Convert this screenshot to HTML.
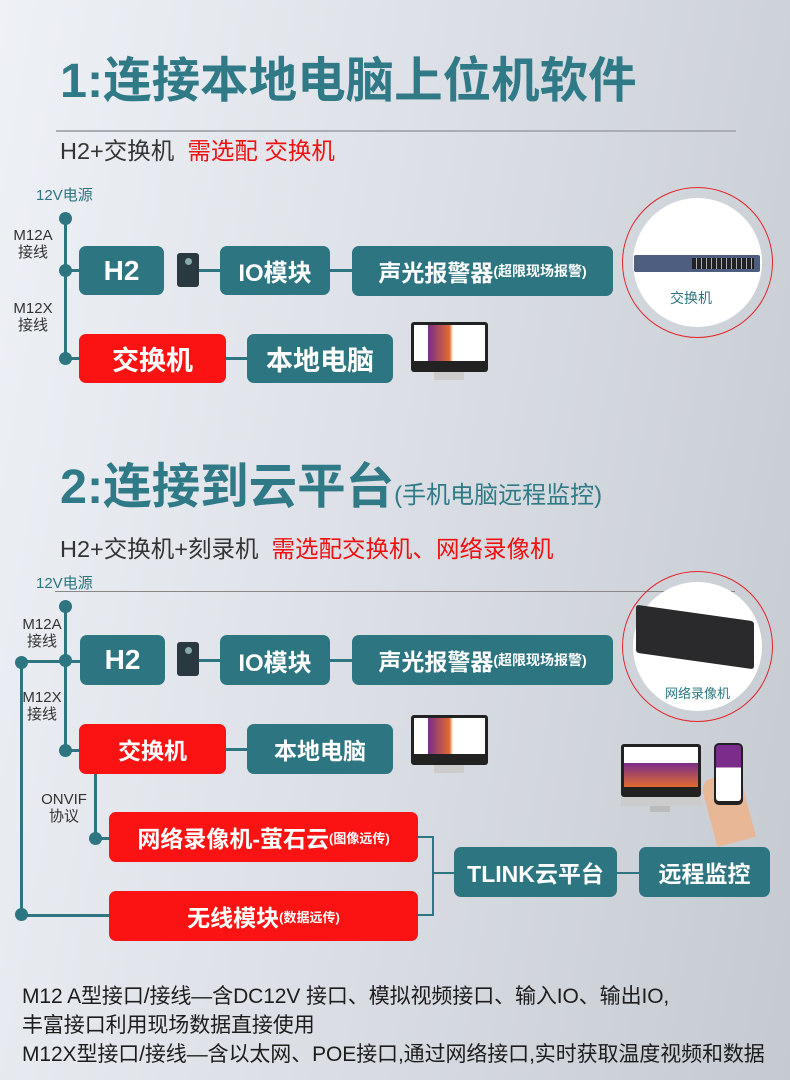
<!DOCTYPE html>
<html><head><meta charset="utf-8">
<style>
*{margin:0;padding:0;box-sizing:border-box}
body{width:790px;height:1080px;position:relative;overflow:hidden;font-family:"Liberation Sans","Noto Sans CJK SC",sans-serif;background:linear-gradient(100deg,#eef1f6 0%,#dde1e7 45%,#c5cad1 100%)}
.a{position:absolute}
.box{position:absolute;border-radius:7px;color:#fff;display:flex;align-items:center;justify-content:center;white-space:nowrap;font-weight:bold}
.t{background:#2d7580}
.r{background:#fb1212}
.ln{position:absolute;background:#2d7580}
.dot{position:absolute;width:13px;height:13px;border-radius:50%;background:#2d7580}
.lbl{position:absolute;font-size:15px;color:#333;line-height:17px;text-align:center}
.title{position:absolute;color:#2f7a86;font-weight:bold;white-space:nowrap}
.sub{position:absolute;font-size:23.5px;color:#333;white-space:nowrap}
.red{color:#f01010}
.circ{position:absolute;border:1.5px solid #e4262a;border-radius:50%}
.inner{position:absolute;background:#fff;border-radius:50%}
.mon{position:absolute}
</style></head><body>

<div class="title" style="left:60px;top:41px;font-size:48.5px;">1:连接本地电脑上位机软件</div>
<div class="a" style="left:56px;top:130px;width:680px;height:2px;background:#a9acb0"></div>
<div class="sub" style="left:60px;top:132px;">H2+交换机 &nbsp;<span class="red">需选配 交换机</span></div>
<div class="a" style="left:36px;top:184px;font-size:15px;color:#2d7580">12V电源</div>

<div class="ln" style="left:64px;top:218px;width:3px;height:141px"></div>
<div class="dot" style="left:59px;top:212px"></div>
<div class="dot" style="left:59px;top:264px"></div>
<div class="dot" style="left:59px;top:352px"></div>
<div class="ln" style="left:65px;top:269px;width:16px;height:3px"></div>
<div class="ln" style="left:65px;top:357px;width:16px;height:3px"></div>
<div class="lbl" style="left:8px;top:227px;width:50px">M12A<br>接线</div>
<div class="lbl" style="left:8px;top:300px;width:50px">M12X<br>接线</div>

<div class="box t" style="left:79px;top:246px;width:85px;height:49px;font-size:28px">H2</div>
<div class="a" style="left:177px;top:253px;width:22px;height:34px;background:#2a3840;border-radius:3px"><div style="margin:5px auto 0;width:7px;height:7px;border-radius:50%;background:#8aa"></div></div>
<div class="ln" style="left:199px;top:269px;width:22px;height:3px"></div>
<div class="box t" style="left:220px;top:246px;width:110px;height:49px;font-size:24px">IO模块</div>
<div class="ln" style="left:330px;top:269px;width:23px;height:3px"></div>
<div class="box t" style="left:352px;top:246px;width:261px;height:50px;font-size:23px">声光报警器<span style="font-size:14px">(超限现场报警)</span></div>
<div class="box r" style="left:79px;top:334px;width:147px;height:49px;font-size:27px">交换机</div>
<div class="ln" style="left:226px;top:357px;width:22px;height:3px"></div>
<div class="box t" style="left:247px;top:334px;width:146px;height:49px;font-size:27px">本地电脑</div>
<div class="mon" style="left:411px;top:322px;width:77px;height:50px;background:#222;border-radius:3px"><div style="margin:3px;height:36px;background:linear-gradient(90deg,#fff 20%,#7a2d8a 20%,#e06b30 50%,#fff 55%)"></div></div>
<div class="a" style="left:434px;top:372px;width:30px;height:8px;background:#ccc"></div>

<div class="circ" style="left:622px;top:187px;width:151px;height:151px"></div>
<div class="inner" style="left:633px;top:198px;width:129px;height:129px"></div>
<div class="a" style="left:634px;top:255px;width:126px;height:17px;background:#4d5e80;border-radius:2px"><div style="position:absolute;left:58px;top:3px;width:62px;height:11px;background:repeating-linear-gradient(90deg,#222 0 4px,#aab 4px 5px)"></div></div>
<div class="a" style="left:670px;top:288px;font-size:14px;color:#2d7580">交换机</div>

<div class="title" style="left:60px;top:447px;font-size:48.5px;">2:连接到云平台<span style="font-size:24px;font-weight:normal">(手机电脑远程监控)</span></div>
<div class="sub" style="left:60px;top:530px;">H2+交换机+刻录机 &nbsp;<span class="red">需选配交换机、网络录像机</span></div>
<div class="a" style="left:36px;top:572px;font-size:15px;color:#2d7580">12V电源</div>
<div class="a" style="left:55px;top:591px;width:680px;height:1px;background:#888"></div>

<div class="ln" style="left:64px;top:606px;width:3px;height:145px"></div>
<div class="dot" style="left:59px;top:600px"></div>
<div class="dot" style="left:59px;top:654px"></div>
<div class="dot" style="left:59px;top:744px"></div>
<div class="ln" style="left:21px;top:660px;width:60px;height:3px"></div>
<div class="ln" style="left:65px;top:749px;width:16px;height:3px"></div>
<div class="ln" style="left:20px;top:662px;width:3px;height:253px"></div>
<div class="dot" style="left:15px;top:656px"></div>
<div class="dot" style="left:15px;top:908px"></div>
<div class="ln" style="left:21px;top:914px;width:90px;height:3px"></div>
<div class="lbl" style="left:17px;top:616px;width:50px">M12A<br>接线</div>
<div class="lbl" style="left:17px;top:689px;width:50px">M12X<br>接线</div>

<div class="box t" style="left:80px;top:635px;width:85px;height:50px;font-size:28px">H2</div>
<div class="a" style="left:177px;top:642px;width:22px;height:34px;background:#2a3840;border-radius:3px"><div style="margin:5px auto 0;width:7px;height:7px;border-radius:50%;background:#8aa"></div></div>
<div class="ln" style="left:199px;top:659px;width:22px;height:3px"></div>
<div class="box t" style="left:220px;top:635px;width:110px;height:50px;font-size:24px">IO模块</div>
<div class="ln" style="left:330px;top:659px;width:23px;height:3px"></div>
<div class="box t" style="left:352px;top:635px;width:261px;height:50px;font-size:23px">声光报警器<span style="font-size:14px">(超限现场报警)</span></div>
<div class="box r" style="left:79px;top:724px;width:147px;height:50px;font-size:23px">交换机</div>
<div class="ln" style="left:226px;top:748px;width:22px;height:3px"></div>
<div class="box t" style="left:247px;top:724px;width:146px;height:50px;font-size:23px">本地电脑</div>
<div class="mon" style="left:411px;top:715px;width:77px;height:50px;background:#222;border-radius:3px"><div style="margin:3px;height:36px;background:linear-gradient(90deg,#fff 20%,#7a2d8a 20%,#e06b30 50%,#fff 55%)"></div></div>
<div class="a" style="left:434px;top:765px;width:30px;height:8px;background:#ccc"></div>

<div class="ln" style="left:94px;top:774px;width:3px;height:64px"></div>
<div class="dot" style="left:89px;top:832px"></div>
<div class="ln" style="left:95px;top:837px;width:16px;height:3px"></div>
<div class="lbl" style="left:36px;top:791px;width:56px">ONVIF<br>协议</div>

<div class="box r" style="left:109px;top:812px;width:309px;height:50px;font-size:23px">网络录像机-萤石云<span style="font-size:13px">(图像远传)</span></div>
<div class="box r" style="left:109px;top:891px;width:309px;height:50px;font-size:23px">无线模块<span style="font-size:13px">(数据远传)</span></div>
<div class="ln" style="left:418px;top:836px;width:16px;height:2px"></div>
<div class="ln" style="left:432px;top:836px;width:2px;height:80px"></div>
<div class="ln" style="left:418px;top:914px;width:16px;height:2px"></div>
<div class="ln" style="left:433px;top:872px;width:22px;height:2px"></div>
<div class="box t" style="left:454px;top:847px;width:163px;height:50px;font-size:23px">TLINK云平台</div>
<div class="ln" style="left:617px;top:872px;width:23px;height:2px"></div>
<div class="box t" style="left:639px;top:847px;width:131px;height:50px;font-size:23px">远程监控</div>

<div class="circ" style="left:622px;top:571px;width:151px;height:151px"></div>
<div class="inner" style="left:633px;top:582px;width:129px;height:129px"></div>
<div class="a" style="left:636px;top:613px;width:118px;height:48px;background:#2a2a2c;transform:skewY(8deg);border-radius:3px"></div>
<div class="a" style="left:665px;top:683px;font-size:13px;color:#2d7580">网络录像机</div>

<div class="mon" style="left:621px;top:744px;width:80px;height:53px;background:#222;border-radius:3px"><div style="margin:3px;height:40px;background:linear-gradient(180deg,#fff 40%,#7a2d8a 40%,#e06b30 100%)"></div></div>
<div class="a" style="left:621px;top:797px;width:80px;height:9px;background:#ccc"></div>
<div class="a" style="left:650px;top:806px;width:20px;height:6px;background:#bbb"></div>
<div class="a" style="left:708px;top:775px;width:40px;height:68px;background:#e8b896;border-radius:12px 12px 0 0;transform:rotate(-15deg)"></div>
<div class="a" style="left:714px;top:743px;width:29px;height:62px;background:#222;border-radius:5px"><div style="margin:2px;height:56px;background:linear-gradient(180deg,#7a2d8a 0 40%,#fff 40%);border-radius:3px"></div></div>

<div class="a" style="left:22px;top:982px;font-size:21px;color:#1c1c1c;line-height:29px;white-space:nowrap;letter-spacing:-0.1px">M12 A型接口/接线—含DC12V 接口、模拟视频接口、输入IO、输出IO,<br>丰富接口利用现场数据直接使用<br>M12X型接口/接线—含以太网、POE接口,通过网络接口,实时获取温度视频和数据</div>
</body></html>
